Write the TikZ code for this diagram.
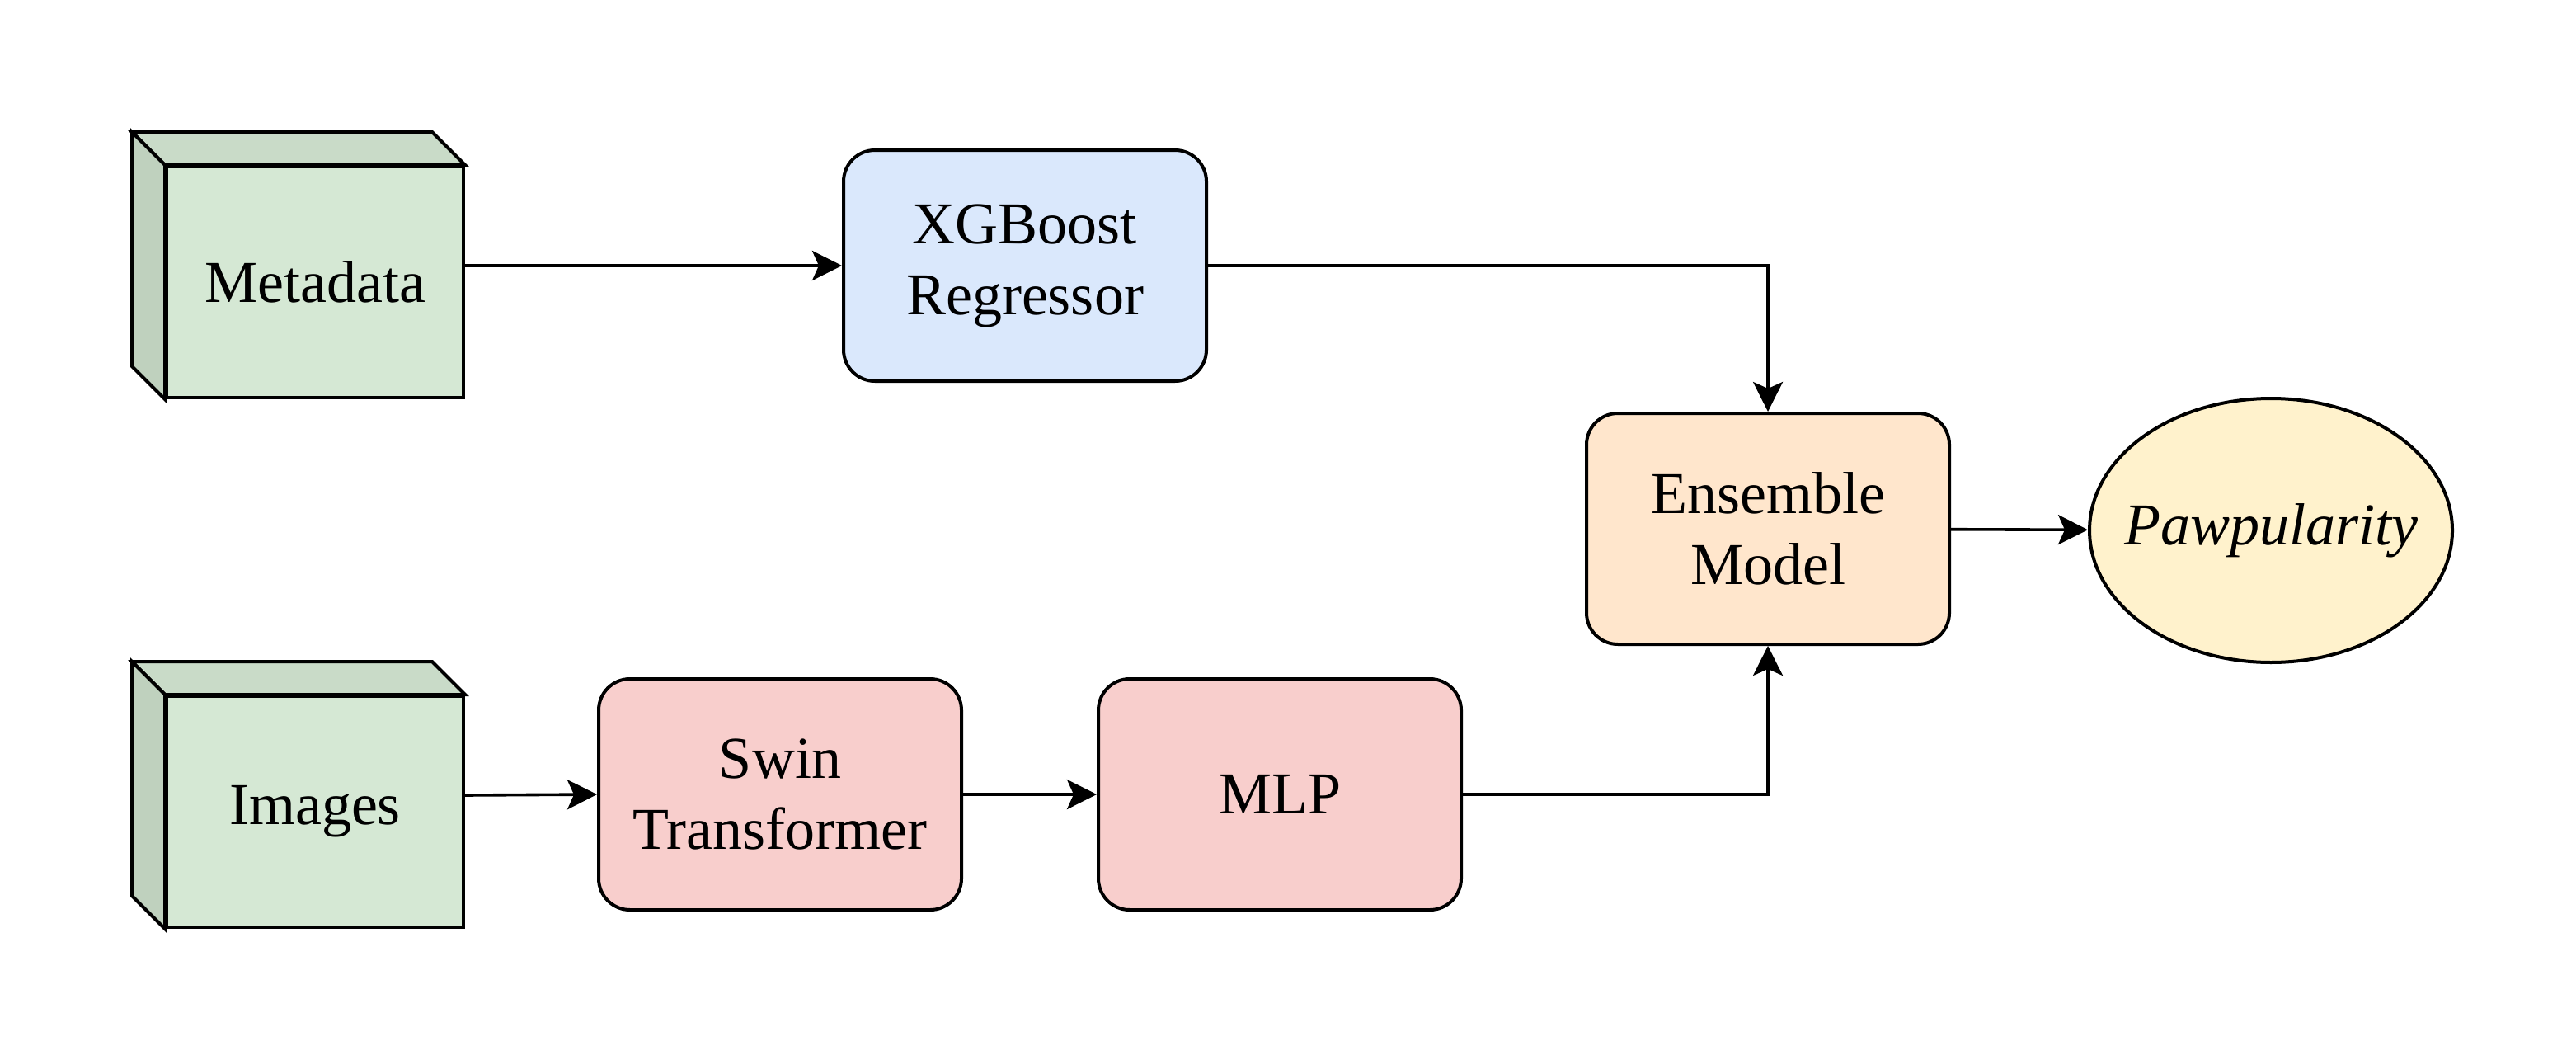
\documentclass[tikz,border=0pt]{standalone}
\usepackage{fontspec}
\setmainfont{Liberation Serif}
\usetikzlibrary{arrows.meta,shapes.geometric}

\definecolor{cubefront}{HTML}{D5E8D4}
\definecolor{cubetop}{HTML}{C9DBC8}
\definecolor{cubeside}{HTML}{BFD1BE}
\definecolor{xgbblue}{HTML}{DAE8FC}
\definecolor{swinred}{HTML}{F8CECC}
\definecolor{enspeach}{HTML}{FFE6CC}
\definecolor{outyellow}{HTML}{FFF2CC}

\begin{document}
\begin{tikzpicture}
[   x=1pt,y=-1pt,
    every node/.style={font=\fontsize{36}{43}\selectfont,line width=2pt},
    rnode/.style={draw=black,fill=#1,rounded corners=19pt,minimum width=220pt,minimum height=140pt,align=center},
    fnode/.style={draw=black,fill=cubefront,minimum width=180pt,minimum height=140pt},
    onode/.style={draw=black,fill=outyellow,ellipse,inner sep=0pt,minimum width=220pt,minimum height=160pt},
    face/.style={draw=black,fill=#1,line width=2pt,line join=miter},
    link/.style={draw=black,line width=1.8pt,-{Stealth[length=18pt,width=18pt,inset=4pt]}},
]
    \useasboundingbox (0,0) rectangle (1562,642);
    % inputs
    \node[fnode] (meta) at (191,171) {Metadata};
    \node[fnode] (img) at (191,492) {Images};
    \foreach \c in {meta,img}
    {   \draw[face=cubetop] (\c.north west) -- ++(-20,-20) -- ([shift={(-20,-20)}]\c.north east) -- (\c.north east) -- cycle;
        \draw[face=cubeside] (\c.north west) -- ++(-20,-20) -- ([shift={(-20,-20)}]\c.south west) -- (\c.south west) -- cycle;
    }
    % models
    \node[rnode=xgbblue] (xgb) at (621.5,161) {XGBoost\\Regressor};
    \node[rnode=swinred] (swin) at (473,481.5) {Swin\\Transformer};
    \node[rnode=swinred] (mlp) at (776,481.5) {MLP};
    \node[rnode=enspeach] (ens) at (1072,320.5) {Ensemble\\Model};
    \node[onode] (paw) at (1377,321.5) {\makebox[0pt]{\itshape Pawpularity}};
    % connectors
    \draw[link] ([yshift=10pt]meta.east) -- (xgb.west);
    \draw[link] ([yshift=10pt]img.east) -- (swin.west);
    \draw[link] (swin) -- (mlp);
    \draw[link] (xgb.east) -| (ens.north);
    \draw[link] (mlp.east) -| (ens.south);
    \draw[link] (ens) -- (paw);
\end{tikzpicture}
\end{document}
